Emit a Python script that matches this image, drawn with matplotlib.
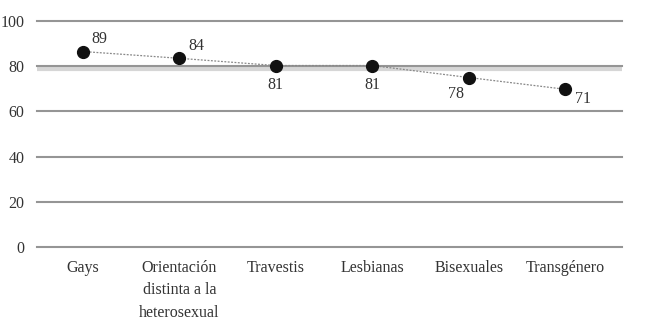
import numpy as np
import matplotlib.pyplot as plt

# %% data
categories = ['Gays', 'Orientación\ndistinta a la\nheterosexual', 'Travestis',
              'Lesbianas', 'Bisexuales', 'Transgénero']
values = [86.5, 83.5, 80.3, 80.3, 75.0, 69.8]   # plotted positions
labels = ['89', '84', '81', '81', '78', '71']   # printed numbers
band_value = 78.9
yticks = [0, 20, 40, 60, 80, 100]

# label offsets in points (dx, dy)
offsets = [(12, 9), (12, 9), (0, -14), (0, -14), (-9, -12), (13, -7)]

plt.rcParams['font.family'] = ['Liberation Serif', 'DejaVu Serif']

fig = plt.figure(figsize=(6.63, 3.32), dpi=100)
ax = fig.add_axes([0.0558, 0.256, 0.8824, 0.6807])

x = np.arange(len(categories))

# gridlines
for t in yticks:
    ax.axhline(t, color='#959595', lw=1.5, zorder=1, clip_on=False)
ax.axhline(band_value, color='#d6d6d6', lw=3, zorder=0)

ax.plot(x, values, linestyle=(0, (1.5, 1.2)), color='#888888', lw=0.9, zorder=2)
ax.plot(x, values, 'o', color='#111111', ms=8.5, zorder=3)

for xi, v, lab, (dx, dy) in zip(x, values, labels, offsets):
    ax.annotate(lab, (xi, v), xytext=(dx, dy), textcoords='offset points',
                ha='center', va='center', fontsize=11.5, color='#333333')

ax.set_xlim(-0.477, 5.59)
ax.set_ylim(0, 100)
ax.set_yticks(yticks)
ax.set_xticks(x)
ax.set_xticklabels(categories, fontsize=11.5, color='#333333', linespacing=1.55)
ax.tick_params(axis='y', length=0, pad=9, labelsize=11.5, labelcolor='#333333')
ax.tick_params(axis='x', length=0, pad=9)
for s in ax.spines.values():
    s.set_visible(False)

fig.savefig('out.png', dpi=100)
